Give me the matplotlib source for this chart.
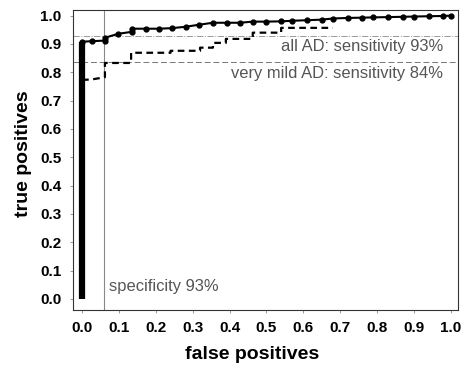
import numpy as np
import matplotlib.pyplot as plt

plt.rcParams['font.family'] = ['Liberation Sans', 'DejaVu Sans']

# all AD ROC curve (solid, dots)
all_fp = [0.0, 0.0, 0.027, 0.062, 0.062, 0.098, 0.135, 0.135, 0.173, 0.209, 0.244,
          0.282, 0.317, 0.355, 0.393, 0.428, 0.463, 0.50, 0.54, 0.57, 0.61,
          0.65, 0.68, 0.72, 0.76, 0.79, 0.83, 0.87, 0.90, 0.94, 0.98, 1.0]
all_tp = [0.0, 0.908, 0.91, 0.912, 0.922, 0.936, 0.943, 0.954, 0.954, 0.954, 0.956,
          0.961, 0.968, 0.975, 0.975, 0.975, 0.979, 0.979, 0.980, 0.982, 0.984,
          0.986, 0.990, 0.992, 0.993, 0.994, 0.995, 0.996, 0.997, 0.998, 0.999, 1.0]

# very mild AD ROC curve (dashed)
mild_fp = [0.0, 0.027, 0.05, 0.062, 0.062, 0.133, 0.133, 0.24, 0.24, 0.32, 0.32,
           0.355, 0.355, 0.39, 0.39, 0.463, 0.463, 0.54, 0.54, 0.68]
mild_tp = [0.773, 0.775, 0.78, 0.783, 0.833, 0.833, 0.869, 0.869, 0.876, 0.876, 0.887,
           0.887, 0.904, 0.904, 0.918, 0.918, 0.94, 0.94, 0.957, 0.957]

sens_all = 0.93
sens_mild = 0.835
spec_fp = 0.06

fig = plt.figure(figsize=(4.67, 3.71), dpi=100)
ax = fig.add_axes([0.156, 0.164, 0.825, 0.809])

ax.axhline(sens_all, color='#999999', lw=0.7, ls='-.')
ax.axhline(sens_mild, color='#777777', lw=0.7, ls=(0, (6, 3)))
ax.axvline(spec_fp, color='#888888', lw=0.8)

ax.plot(mild_fp, mild_tp, color='black', lw=1.6, ls=(0, (3, 2)))
ax.plot(all_fp[:2], all_tp[:2], color='black', lw=4.5, solid_capstyle='butt')
ax.plot(all_fp[1:], all_tp[1:], color='black', lw=1.5, marker='o', ms=3.5)

ax.text(0.98, sens_all - 0.012, 'all AD: sensitivity 93%', ha='right', va='top',
        fontsize=11.9, color='#555555')
ax.text(0.98, sens_mild - 0.012, 'very mild AD: sensitivity 84%', ha='right', va='top',
        fontsize=11.9, color='#555555')
ax.text(spec_fp + 0.012, 0.045, 'specificity 93%', ha='left', va='center',
        fontsize=11.9, color='#555555')

ax.set_xlim(-0.025, 1.02)
ax.set_ylim(-0.04, 1.02)
ticks = np.round(np.arange(0, 1.01, 0.1), 1)
ax.set_xticks(ticks)
ax.set_yticks(ticks)
ax.set_xticklabels([f'{t:.1f}' for t in ticks], fontweight='bold', fontsize=11)
ax.set_yticklabels([f'{t:.1f}' for t in ticks], fontweight='bold', fontsize=11)
ax.tick_params(length=2, width=0.6, color='#888888', pad=6)
ax.set_xlabel('false positives', fontweight='bold', fontsize=14)
ax.set_ylabel('true positives', fontweight='bold', fontsize=14)
ax.xaxis.set_label_coords(0.465, -0.12)
ax.yaxis.set_label_coords(-0.105, 0.52)
for s in ax.spines.values():
    s.set_linewidth(0.8)
    s.set_color('#333333')

fig.savefig('out.png', dpi=100)
